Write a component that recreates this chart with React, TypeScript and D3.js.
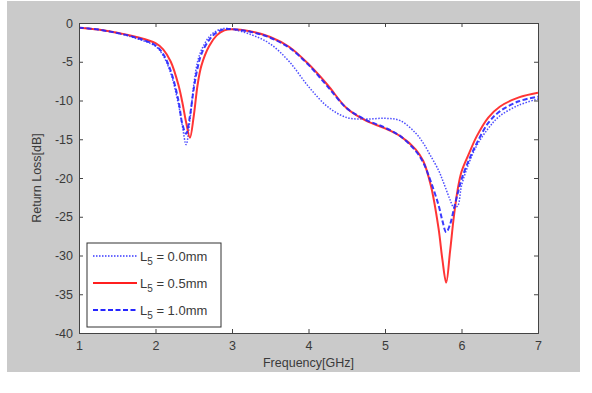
import { useEffect, useRef } from 'react';
import * as d3 from 'd3';

// Return loss vs frequency for three values of L5 (MATLAB-style figure)

const W = 592;
const H = 393;
const M = { left: 79, top: 23, right: 538, bottom: 333 };

const FREQ = [
  1, 1.25, 1.5, 1.75, 2, 2.1, 2.2, 2.3, 2.35, 2.4, 2.45, 2.5, 2.55, 2.6, 2.7, 2.8, 2.9, 3,
  3.25, 3.5, 3.75, 4, 4.25, 4.5, 4.75, 5, 5.2, 5.4, 5.5, 5.6, 5.7, 5.75, 5.8, 5.85, 5.9,
  5.95, 6, 6.1, 6.2, 6.35, 6.5, 6.75, 7,
];

const L5_00 = [
  -0.6, -0.85, -1.3, -2.0, -3.0, -4.2, -6.5, -10.5, -13.2, -15.7, -12.5, -8.0, -5.0, -3.5,
  -1.8, -1.0, -0.7, -0.8, -1.5, -2.7, -5.0, -8.2, -10.8, -12.2, -12.4, -12.3, -12.6, -14.2,
  -15.5, -17.2, -19.0, -20.2, -21.5, -22.8, -23.8, -23.6, -21.0, -18.0, -15.8, -13.6,
  -12.0, -10.6, -9.8,
];

const L5_05 = [
  -0.6, -0.85, -1.25, -1.8, -2.6, -3.4, -5.0, -8.0, -10.2, -12.8, -14.8, -12.0, -8.0, -5.5,
  -3.0, -1.6, -0.95, -0.8, -1.1, -1.8, -3.1, -5.3, -8.0, -11.0, -12.6, -13.6, -14.6, -16.3,
  -17.8, -21.0, -26.5, -30.5, -33.5, -29.5, -25.0, -21.5, -19.2, -16.8, -14.6, -12.2,
  -10.8, -9.6, -9.0,
];

const L5_10 = [
  -0.6, -0.85, -1.3, -1.9, -2.9, -4.0, -6.2, -10.0, -13.0, -14.3, -12.0, -8.5, -5.8, -4.0,
  -2.2, -1.2, -0.8, -0.8, -1.15, -1.9, -3.2, -5.4, -8.2, -11.0, -12.5, -13.5, -14.6, -16.5,
  -18.0, -20.5, -23.5, -25.5, -27.0, -26.0, -24.0, -22.0, -20.2, -17.6, -15.5, -12.9,
  -11.4, -10.1, -9.5,
];

const X_TICKS = [1, 2, 3, 4, 5, 6, 7];
const Y_TICKS = [0, -5, -10, -15, -20, -25, -30, -35, -40];

const SERIES = [
  { label: '0.0mm', values: L5_00, color: '#3a3aff', width: 1.5, dash: '1.5,1.5' },
  { label: '0.5mm', values: L5_05, color: '#ff1f1f', width: 2, dash: null },
  { label: '1.0mm', values: L5_10, color: '#2626ff', width: 2, dash: '5,2.5' },
];

const FONT = 'Liberation Sans, Arial, sans-serif';
const TXT = '#3a3a3a';

export default function App() {
  const ref = useRef<SVGSVGElement>(null);

  useEffect(() => {
    const svg = d3.select(ref.current);
    svg.selectAll('*').remove();

    const x = d3.scaleLinear().domain([1, 7]).range([M.left, M.right]);
    const y = d3.scaleLinear().domain([0, -40]).range([M.top, M.bottom]);

    svg.append('rect').attr('width', W).attr('height', H).attr('fill', '#fff');
    svg.append('rect').attr('x', 7).attr('y', 1).attr('width', 573).attr('height', 371).attr('fill', '#cacaca');
    svg
      .append('rect')
      .attr('x', M.left)
      .attr('y', M.top)
      .attr('width', M.right - M.left)
      .attr('height', M.bottom - M.top)
      .attr('fill', '#fff');

    const clip = svg.append('clipPath').attr('id', 'plotclip');
    clip
      .append('rect')
      .attr('x', M.left)
      .attr('y', M.top)
      .attr('width', M.right - M.left)
      .attr('height', M.bottom - M.top);

    const line = d3
      .line<number>()
      .x((_, i) => x(FREQ[i]))
      .y((d) => y(d))
      .curve(d3.curveCatmullRom.alpha(0.5));

    const g = svg.append('g').attr('clip-path', 'url(#plotclip)');
    SERIES.forEach((s) => {
      g.append('path')
        .attr('d', line(s.values))
        .attr('fill', 'none')
        .attr('stroke', s.color)
        .attr('stroke-width', s.width)
        .attr('stroke-dasharray', s.dash)
        .attr('opacity', 0.9);
    });

    // axes, ticks inward on all four sides
    const axisCol = '#444';
    const tl = 4;
    const fmt = (d: any) => String(d);
    const bottom = d3.axisBottom(x).tickValues(X_TICKS).tickSize(-tl).tickPadding(8).tickFormat(fmt);
    const top = d3.axisTop(x).tickValues(X_TICKS).tickSize(-tl).tickFormat(() => '');
    const left = d3.axisLeft(y).tickValues(Y_TICKS).tickSize(-tl).tickPadding(6).tickFormat(fmt);
    const right = d3.axisRight(y).tickValues(Y_TICKS).tickSize(-tl).tickFormat(() => '');

    const ax = (a: any, tr: string) => {
      const gg = svg.append('g').attr('transform', tr).call(a);
      gg.select('.domain').attr('stroke', axisCol);
      gg.selectAll('.tick line').attr('stroke', axisCol);
      gg.selectAll('text').attr('fill', TXT).attr('font-family', FONT).attr('font-size', 12.5);
      return gg;
    };
    ax(bottom, `translate(0,${M.bottom})`);
    ax(top, `translate(0,${M.top})`);
    ax(left, `translate(${M.left},0)`);
    ax(right, `translate(${M.right},0)`);

    svg
      .append('text')
      .attr('x', (M.left + M.right) / 2)
      .attr('y', 367)
      .attr('text-anchor', 'middle')
      .attr('font-family', FONT)
      .attr('font-size', 12.5)
      .attr('fill', TXT)
      .text('Frequency[GHz]');

    svg
      .append('text')
      .attr('transform', `translate(41,${(M.top + M.bottom) / 2}) rotate(-90)`)
      .attr('text-anchor', 'middle')
      .attr('font-family', FONT)
      .attr('font-size', 12.5)
      .attr('fill', TXT)
      .text('Return Loss[dB]');

    // legend
    const lg = svg.append('g').attr('transform', 'translate(87,243)');
    lg.append('rect').attr('width', 134).attr('height', 84).attr('fill', '#fff').attr('stroke', '#333').attr('stroke-width', 1);
    SERIES.forEach((s, i) => {
      const yy = 13 + i * 27;
      lg.append('line')
        .attr('x1', 6)
        .attr('x2', 50)
        .attr('y1', yy)
        .attr('y2', yy)
        .attr('stroke', s.color)
        .attr('stroke-width', s.width)
        .attr('stroke-dasharray', s.dash);
      const t = lg
        .append('text')
        .attr('x', 53)
        .attr('y', yy + 4.5)
        .attr('font-family', FONT)
        .attr('font-size', 13)
        .attr('fill', TXT);
      t.append('tspan').text('L');
      t.append('tspan').attr('dy', 4).attr('font-size', 10).text('5');
      t.append('tspan').attr('dy', -4).text(` = ${s.label}`);
    });
  }, []);

  return (
    <div style={{ position: 'fixed', left: 0, top: 0 }}>
      <svg ref={ref} width={W} height={H} />
    </div>
  );
}
